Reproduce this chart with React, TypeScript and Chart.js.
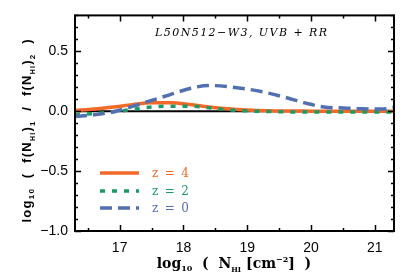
import React, { useEffect, useRef } from 'react';
import { Chart, registerables } from 'chart.js';
Chart.register(...registerables);

const nHI = [16.3, 16.6, 16.9, 17.2, 17.5, 17.8, 18.1, 18.4, 18.7, 19.0, 19.3, 19.6, 19.9, 20.2, 20.5, 20.8, 21.1, 21.3];
const ratioZ4 = [0.007, 0.018, 0.035, 0.055, 0.07, 0.071, 0.056, 0.035, 0.02, 0.01, 0.004, 0.002, 0.001, 0.0, 0.0, 0.0, 0.0, 0.0];
const ratioZ2 = [-0.03, -0.02, -0.005, 0.015, 0.035, 0.042, 0.042, 0.028, 0.012, 0.003, -0.002, -0.005, -0.007, -0.007, -0.007, -0.007, -0.007, -0.007];
const ratioZ0 = [-0.045, -0.03, -0.005, 0.04, 0.09, 0.14, 0.19, 0.215, 0.205, 0.185, 0.155, 0.115, 0.07, 0.035, 0.027, 0.02, 0.018, 0.03];
const seriesLabels = ['z = 4', 'z = 2', 'z = 0'];
const xTickValues = [17, 18, 19, 20, 21];
const yTickValues = [-1.0, -0.5, 0.0, 0.5];
const yTickLabels = ['\u22121.0', '\u22120.5', '0.0', '0.5'];
const plotTitle = 'L50N512\u2212W3, UVB + RR';

const COLORS = ['#F26A28', '#1B9A66', '#5270B0'];

type Seg = { t: string; size: number; dy: number };

function drawFitted(ctx: CanvasRenderingContext2D, segs: Seg[], family: string, style: string, cx: number, cy: number, target: number, color: string) {
  const chars: { c: string; size: number; dy: number; w: number }[] = [];
  for (const s of segs) {
    for (const c of s.t) {
      ctx.font = `${style} ${s.size}px ${family}`;
      chars.push({ c, size: s.size, dy: s.dy, w: ctx.measureText(c).width });
    }
  }
  const natural = chars.reduce((a, b) => a + b.w, 0);
  const gap = chars.length > 1 ? Math.max(0, (target - natural) / (chars.length - 1)) : 0;
  const total = natural + gap * (chars.length - 1);
  let x = cx - total / 2;
  ctx.fillStyle = color;
  ctx.textBaseline = 'alphabetic';
  ctx.textAlign = 'left';
  for (const ch of chars) {
    ctx.font = `${style} ${ch.size}px ${family}`;
    ctx.fillText(ch.c, x, cy + ch.dy);
    x += ch.w + gap;
  }
}

const decor = {
  id: 'decor',
  afterDatasetsDraw(chart: any) {
    const ctx: CanvasRenderingContext2D = chart.ctx;
    const { left, right, top, bottom } = chart.chartArea;
    const xs = chart.scales.x;
    const ys = chart.scales.y;
    ctx.save();
    ctx.strokeStyle = '#000';
    ctx.lineWidth = 2;
    ctx.strokeRect(left, top, right - left, bottom - top);
    ctx.lineWidth = 1.5;
    ctx.beginPath();
    for (let v = 16.5; v <= 21.3; v += 0.5) {
      const px = Math.round(xs.getPixelForValue(v)) + 0.5;
      const major = Math.abs(v - Math.round(v)) < 1e-6;
      const L = major ? 6 : 3;
      ctx.moveTo(px, bottom); ctx.lineTo(px, bottom - L);
      ctx.moveTo(px, top); ctx.lineTo(px, top + L);
    }
    for (let i = -10; i <= 8; i++) {
      const v = i / 10;
      const py = Math.round(ys.getPixelForValue(v)) + 0.5;
      const major = i % 5 === 0;
      const L = major ? 6 : 3;
      ctx.moveTo(left, py); ctx.lineTo(left + L, py);
      ctx.moveTo(right, py); ctx.lineTo(right - L, py);
    }
    ctx.stroke();

    // legend
    const legendY = [173, 191, 208];
    chart.data.datasets.slice(0, 3).forEach((ds: any, i: number) => {
      ctx.beginPath();
      ctx.strokeStyle = ds.borderColor;
      ctx.lineWidth = ds.borderWidth;
      ctx.setLineDash(ds.borderDash || []);
      ctx.moveTo(100, legendY[i]);
      ctx.lineTo(139, legendY[i]);
      ctx.stroke();
      ctx.setLineDash([]);
      drawFitted(ctx, [{ t: ds.label, size: 12, dy: 0 }], '"DejaVu Serif"', 'normal', 170.5, legendY[i] + 4, 37, ds.borderColor);
    });

    // title
    drawFitted(ctx, [{ t: plotTitle, size: 11, dy: 0 }], '"DejaVu Serif"', 'italic', 241, 36, 172, '#000');

    // x title
    drawFitted(ctx, [
      { t: 'log', size: 14, dy: 0 }, { t: '10', size: 8, dy: 3 }, { t: '  (  N', size: 14, dy: 0 },
      { t: 'HI', size: 7, dy: 4 }, { t: ' [cm', size: 14, dy: 0 }, { t: '\u22122', size: 8, dy: -6 }, { t: ']  )', size: 14, dy: 0 },
    ], '"DejaVu Serif"', 'bold', 234, 268, 132, '#000');

    // y title
    ctx.save();
    ctx.translate(31, 131);
    ctx.rotate(-Math.PI / 2);
    drawFitted(ctx, [
      { t: 'log', size: 13, dy: 0 }, { t: '10', size: 8, dy: 3 }, { t: '  (  f(N', size: 13, dy: 0 },
      { t: 'HI', size: 7, dy: 4 }, { t: ')', size: 13, dy: 0 }, { t: '1', size: 8, dy: 4 },
      { t: '  /  f(N', size: 13, dy: 0 }, { t: 'HI', size: 7, dy: 4 }, { t: ')', size: 13, dy: 0 },
      { t: '2', size: 8, dy: 4 }, { t: '  )', size: 13, dy: 0 },
    ], '"Liberation Sans"', 'bold', 0, 0, 183, '#000');
    ctx.restore();
    ctx.restore();
  },
};

export default function App() {
  const ref = useRef<HTMLCanvasElement>(null);
  useEffect(() => {
    if (!ref.current) return;
    const mk = (ys: number[]) => nHI.map((x, i) => ({ x, y: ys[i] }));
    const chart = new Chart(ref.current, {
      type: 'line',
      data: {
        datasets: [
          { label: seriesLabels[0], data: mk(ratioZ4), borderColor: COLORS[0], borderWidth: 3.5, order: 3 },
          { label: seriesLabels[1], data: mk(ratioZ2), borderColor: COLORS[1], borderWidth: 3.5, borderDash: [5, 7], order: 2 },
          { label: seriesLabels[2], data: mk(ratioZ0), borderColor: COLORS[2], borderWidth: 3.5, borderDash: [12, 6], order: 1 },
          { label: 'zero', data: [{ x: 16.3, y: 0 }, { x: 21.3, y: 0 }], borderColor: '#000', borderWidth: 2, order: 4 },
        ] as any,
      },
      options: {
        animation: false,
        responsive: false,
        devicePixelRatio: 1,
        layout: { padding: { top: 14, right: 21, left: 0, bottom: 0 } },
        elements: { point: { radius: 0 }, line: { cubicInterpolationMode: 'monotone', borderCapStyle: 'butt' } },
        plugins: { legend: { display: false }, tooltip: { enabled: false } },
        scales: {
          x: {
            type: 'linear', min: 16.3, max: 21.3,
            grid: { display: false, drawTicks: false },
            border: { display: false },
            afterBuildTicks: (s: any) => { s.ticks = xTickValues.map((v) => ({ value: v })); },
            afterFit: (s: any) => { s.height = 46; },
            ticks: { padding: 9, color: '#000', font: { family: '"Liberation Sans"', size: 14 }, callback: (v: any) => String(v), maxRotation: 0 },
          },
          y: {
            type: 'linear', min: -1.0, max: 0.8,
            grid: { display: false, drawTicks: false },
            border: { display: false },
            afterBuildTicks: (s: any) => { s.ticks = yTickValues.map((v) => ({ value: v })); },
            afterFit: (s: any) => { s.width = 75; },
            ticks: {
              padding: 7, color: '#000', font: { family: '"Liberation Sans"', size: 14 },
              callback: (v: any) => { const i = yTickValues.findIndex((t) => Math.abs(t - v) < 1e-9); return i >= 0 ? yTickLabels[i] : ''; },
            },
          },
        },
      } as any,
      plugins: [decor],
    });
    return () => chart.destroy();
  }, []);
  return (
    <div style={{ position: 'absolute', left: 0, top: 0, width: 415, height: 277, background: '#fff' }}>
      <canvas ref={ref} width={415} height={277} style={{ display: 'block' }} />
    </div>
  );
}
